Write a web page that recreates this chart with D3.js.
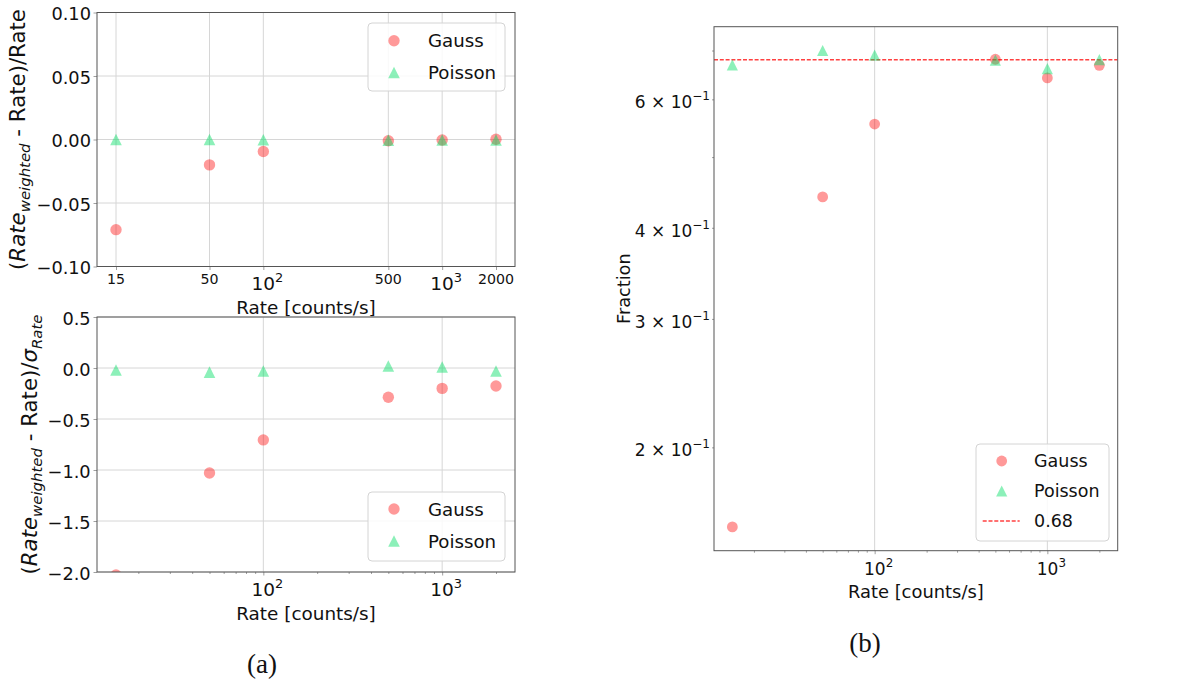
<!DOCTYPE html>
<html><head><meta charset="utf-8">
<script src="https://cdn.jsdelivr.net/npm/d3@7"></script>
<style>body{margin:0;background:#fff}text{font-family:"DejaVu Sans",sans-serif;fill:#111}</style>
</head><body><svg id="c" width="1198" height="681"></svg>
<script>
// ---------- data ----------
const rates = [15, 50, 100, 500, 1000, 2000];
const relDevGauss = [-0.071, -0.020, -0.0095, -0.001, -0.0004, 0.0002];
const relDevPoisson = [0.0, 0.0, -0.0002, -0.0005, -0.0004, -0.0004];
const pullGauss = [-2.03, -1.03, -0.705, -0.287, -0.20, -0.176];
const pullPoisson = [-0.02, -0.04, -0.03, 0.02, 0.01, -0.03];
const fracGauss = [0.1556, 0.441, 0.555, 0.681, 0.642, 0.668];
const fracPoisson = [0.669, 0.70, 0.69, 0.679, 0.661, 0.68];
const refLevel = 0.68;
const topXTicks = [15, 50, 100, 500, 1000, 2000];
const topXLabels = ["15", "50", "10^2", "500", "10^3", "2000"];
const topYTicks = [-0.10, -0.05, 0.00, 0.05, 0.10];
const bottomYTicks = [-2.0, -1.5, -1.0, -0.5, 0.0, 0.5];
const decadeTicks = [100, 1000];
const fracYTicks = [0.2, 0.3, 0.4, 0.6];
const fracYLabels = ["2", "3", "4", "6"];
const fracYMinor = [0.5, 0.7];
const seriesNames = ["Gauss", "Poisson"];
const refLabel = "0.68";

// ---------- setup ----------
const svg = d3.select("#c");
const RED = "rgba(255,0,0,0.4)", GREEN = "rgba(0,222,100,0.45)";
const SPINE = "#555", GRID = "#d6d6d6", TICK = "#888";

function logDomain(vals) {
  const e = d3.extent(vals).map(Math.log10), s = e[1] - e[0];
  return [Math.pow(10, e[0] - 0.05 * s), Math.pow(10, e[1] + 0.05 * s)];
}
const xDom = logDomain(rates);
const fracDom = logDomain(fracGauss.concat(fracPoisson));

const P1 = {x0: 97, x1: 515, y0: 12.5, y1: 266.5};
const P2 = {x0: 97, x1: 515, y0: 317, y1: 572};
const P3 = {x0: 714, x1: 1117.7, y0: 26.7, y1: 550.7};

const x1 = d3.scaleLog().domain(xDom).range([P1.x0, P1.x1]);
const y1 = d3.scaleLinear().domain([-0.1, 0.1]).range([P1.y1, P1.y0]);
const x2 = d3.scaleLog().domain(xDom).range([P2.x0, P2.x1]);
const y2 = d3.scaleLinear().domain([-2.0, 0.5]).range([P2.y1, P2.y0]);
const x3 = d3.scaleLog().domain(xDom).range([P3.x0, P3.x1]);
const y3 = d3.scaleLog().domain(fracDom).range([P3.y1, P3.y0]);

const minorX = [];
for (const d of [10, 100, 1000]) for (let k = 2; k <= 9; k++) { const v = d * k; if (v > xDom[0] && v < xDom[1]) minorX.push(v); }

let clipId = 0;
function panel(P) {
  const g = svg.append("g");
  const id = "clip" + (clipId++);
  svg.append("clipPath").attr("id", id).append("rect")
    .attr("x", P.x0).attr("y", P.y0).attr("width", P.x1 - P.x0).attr("height", P.y1 - P.y0);
  return {g, id};
}
function gridX(g, sx, P, vals) {
  g.selectAll(null).data(vals).enter().append("line")
    .attr("x1", d => sx(d)).attr("x2", d => sx(d)).attr("y1", P.y0).attr("y2", P.y1)
    .attr("stroke", GRID).attr("stroke-width", 1);
}
function gridY(g, sy, P, vals) {
  g.selectAll(null).data(vals).enter().append("line")
    .attr("y1", d => sy(d)).attr("y2", d => sy(d)).attr("x1", P.x0).attr("x2", P.x1)
    .attr("stroke", GRID).attr("stroke-width", 1);
}
function tickAxis(g, axis, tx, ty) {
  const a = g.append("g").attr("transform", `translate(${tx},${ty})`).call(axis);
  a.select(".domain").remove();
  a.selectAll("line").attr("stroke", TICK).attr("stroke-width", 0.8);
  a.selectAll("text").remove();
  return a;
}
function spines(g, P) {
  g.append("rect").attr("x", P.x0).attr("y", P.y0).attr("width", P.x1 - P.x0).attr("height", P.y1 - P.y0)
    .attr("fill", "none").attr("stroke", SPINE).attr("stroke-width", 1);
}
function circles(g, id, sx, sy, xs, ys, r) {
  g.append("g").attr("clip-path", `url(#${id})`).selectAll(null).data(xs.map((v, i) => [v, ys[i]])).enter()
    .append("circle").attr("cx", d => sx(d[0])).attr("cy", d => sy(d[1])).attr("r", r).attr("fill", RED);
}
function triPath(cx, cy, h) { return `M${cx},${cy - h}L${cx + h},${cy + h}L${cx - h},${cy + h}Z`; }
function tris(g, id, sx, sy, xs, ys, h) {
  g.append("g").attr("clip-path", `url(#${id})`).selectAll(null).data(xs.map((v, i) => [v, ys[i]])).enter()
    .append("path").attr("d", d => triPath(sx(d[0]), sy(d[1]), h)).attr("fill", GREEN);
}
function powLabel(g, x, y, base, exp, fs, anchor) {
  const t = g.append("text").attr("x", x).attr("y", y).attr("font-size", fs).attr("text-anchor", anchor || "middle");
  t.append("tspan").text(base);
  t.append("tspan").attr("font-size", fs * 0.7).attr("dy", -fs * 0.45).text(exp);
  return t;
}
function legend(g, box, rows, fs, r, h) {
  g.append("rect").attr("x", box.x).attr("y", box.y).attr("width", box.w).attr("height", box.h).attr("rx", 4)
    .attr("fill", "rgba(255,255,255,0.85)").attr("stroke", "#d4d4d4").attr("stroke-width", 1);
  rows.forEach((row, i) => {
    const cy = box.y + box.first + i * box.step;
    if (row.kind === "c") g.append("circle").attr("cx", box.mx).attr("cy", cy).attr("r", r).attr("fill", RED);
    else if (row.kind === "t") g.append("path").attr("d", triPath(box.mx, cy, h)).attr("fill", GREEN);
    else g.append("line").attr("x1", box.mx - 19).attr("x2", box.mx + 18).attr("y1", cy).attr("y2", cy)
      .attr("stroke", "rgba(255,0,0,0.75)").attr("stroke-width", 1.3).attr("stroke-dasharray", "4,1.8");
    g.append("text").attr("x", box.tx).attr("y", cy).attr("dy", "0.36em").attr("font-size", fs).text(row.name);
  });
}
function ylabel(g, x, y, fs, parts) {
  const t = g.append("text").attr("transform", `translate(${x},${y}) rotate(-90)`).attr("text-anchor", "middle").attr("font-size", fs);
  parts.forEach(p => {
    const s = t.append("tspan").text(p.t);
    if (p.it) s.attr("font-style", "italic");
    if (p.sub) s.attr("font-size", fs * 0.7).attr("dy", fs * 0.22);
    if (p.back) s.attr("dy", -fs * 0.22);
  });
}

// ---------- panel 1 ----------
{
  const {g, id} = panel(P1);
  gridX(g, x1, P1, topXTicks);
  gridY(g, y1, P1, topYTicks);
  tickAxis(g, d3.axisBottom(x1).tickValues(topXTicks).tickSize(3.5), 0, P1.y1);
  tickAxis(g, d3.axisLeft(y1).tickValues(topYTicks).tickSize(3.5), P1.x0, 0);
  circles(g, id, x1, y1, rates, relDevGauss, 5.7);
  tris(g, id, x1, y1, rates, relDevPoisson, 5.8);
  spines(g, P1);
  topXTicks.forEach((v, i) => {
    const lab = topXLabels[i];
    if (lab.includes("^")) { const [b, e] = lab.split("^"); powLabel(g, x1(v) + 4, 290, b, e, 18.5); }
    else g.append("text").attr("x", x1(v)).attr("y", 284).attr("text-anchor", "middle").attr("font-size", 14.2).text(lab);
  });
  g.selectAll(null).data(topYTicks).enter().append("text").attr("x", 91).attr("y", d => y1(d) + 1.2).attr("dy", "0.36em")
    .attr("text-anchor", "end").attr("font-size", 17.8).text(d3.format(".2f"));
  g.append("text").attr("x", (P1.x0 + P1.x1) / 2).attr("y", 314).attr("text-anchor", "middle").attr("font-size", 18.4).text("Rate [counts/s]");
  ylabel(g, 25, (P1.y0 + P1.y1) / 2, 21.3, [{t: "("}, {t: "Rate", it: 1}, {t: "weighted", it: 1, sub: 1}, {t: " - Rate)/Rate", back: 1}]);
  legend(g, {x: 368, y: 23, w: 137, h: 68, first: 17.7, step: 31.8, mx: 394, tx: 428}, [{kind: "c", name: seriesNames[0]}, {kind: "t", name: seriesNames[1]}], 18.2, 5.7, 5.8);
}
// ---------- panel 2 ----------
{
  const {g, id} = panel(P2);
  gridX(g, x2, P2, decadeTicks);
  gridY(g, y2, P2, bottomYTicks);
  tickAxis(g, d3.axisBottom(x2).tickValues(decadeTicks).tickSize(3.5), 0, P2.y1);
  tickAxis(g, d3.axisBottom(x2).tickValues(minorX).tickSize(2), 0, P2.y1);
  tickAxis(g, d3.axisLeft(y2).tickValues(bottomYTicks).tickSize(3.5), P2.x0, 0);
  circles(g, id, x2, y2, rates, pullGauss, 5.7);
  tris(g, id, x2, y2, rates, pullPoisson, 5.8);
  spines(g, P2);
  decadeTicks.forEach(v => powLabel(g, x2(v) + 4, 596, "10", String(Math.round(Math.log10(v))), 18.5));
  g.selectAll(null).data(bottomYTicks).enter().append("text").attr("x", 90.7).attr("y", d => y2(d) + 1.2).attr("dy", "0.36em")
    .attr("text-anchor", "end").attr("font-size", 17.8).text(d3.format(".1f"));
  g.append("text").attr("x", (P2.x0 + P2.x1) / 2).attr("y", 620).attr("text-anchor", "middle").attr("font-size", 18.4).text("Rate [counts/s]");
  ylabel(g, 37, (P2.y0 + P2.y1) / 2, 21.3, [{t: "("}, {t: "Rate", it: 1}, {t: "weighted", it: 1, sub: 1}, {t: " - Rate)/", back: 1}, {t: "σ", it: 1}, {t: "Rate", it: 1, sub: 1}]);
  legend(g, {x: 368, y: 492, w: 137, h: 69, first: 17, step: 32, mx: 394, tx: 428}, [{kind: "c", name: seriesNames[0]}, {kind: "t", name: seriesNames[1]}], 18.2, 5.7, 5.8);
  g.append("text").attr("x", 262).attr("y", 673).attr("text-anchor", "middle").attr("font-size", 27)
    .style("font-family", "'Liberation Serif', serif").text("(a)");
}
// ---------- panel 3 ----------
{
  const {g, id} = panel(P3);
  gridX(g, x3, P3, decadeTicks);
  tickAxis(g, d3.axisBottom(x3).tickValues(decadeTicks).tickSize(3.5), 0, P3.y1);
  tickAxis(g, d3.axisBottom(x3).tickValues(minorX).tickSize(2), 0, P3.y1);
  tickAxis(g, d3.axisLeft(y3).tickValues(fracYTicks.concat(fracYMinor)).tickSize(2), P3.x0, 0);
  g.append("g").attr("clip-path", `url(#${id})`).append("line")
    .attr("x1", P3.x0).attr("x2", P3.x1).attr("y1", y3(refLevel)).attr("y2", y3(refLevel))
    .attr("stroke", "rgba(255,0,0,0.75)").attr("stroke-width", 1.5).attr("stroke-dasharray", "4,1.8");
  circles(g, id, x3, y3, rates, fracGauss, 5.4);
  tris(g, id, x3, y3, rates, fracPoisson, 5.6);
  spines(g, P3);
  decadeTicks.forEach(v => powLabel(g, x3(v) + 4, 575, "10", String(Math.round(Math.log10(v))), 17));
  fracYTicks.forEach((v, i) => {
    const t = g.append("text").attr("x", 710).attr("y", y3(v) + 9).attr("text-anchor", "end").attr("font-size", 17);
    t.append("tspan").text(fracYLabels[i] + " × 10");
    t.append("tspan").attr("font-size", 12).attr("dy", -8).text("−1");
  });
  g.append("text").attr("x", (P3.x0 + P3.x1) / 2).attr("y", 598).attr("text-anchor", "middle").attr("font-size", 17.9).text("Rate [counts/s]");
  g.append("text").attr("transform", `translate(630,${(P3.y0 + P3.y1) / 2}) rotate(-90)`).attr("text-anchor", "middle").attr("font-size", 17.7).text("Fraction");
  legend(g, {x: 976, y: 444, w: 133, h: 97, first: 17, step: 30, mx: 1001.7, tx: 1034}, [{kind: "c", name: seriesNames[0]}, {kind: "t", name: seriesNames[1]}, {kind: "l", name: refLabel}], 17.5, 5.4, 5.6);
  g.append("text").attr("x", 865).attr("y", 652).attr("text-anchor", "middle").attr("font-size", 27)
    .style("font-family", "'Liberation Serif', serif").text("(b)");
}
</script></body></html>
